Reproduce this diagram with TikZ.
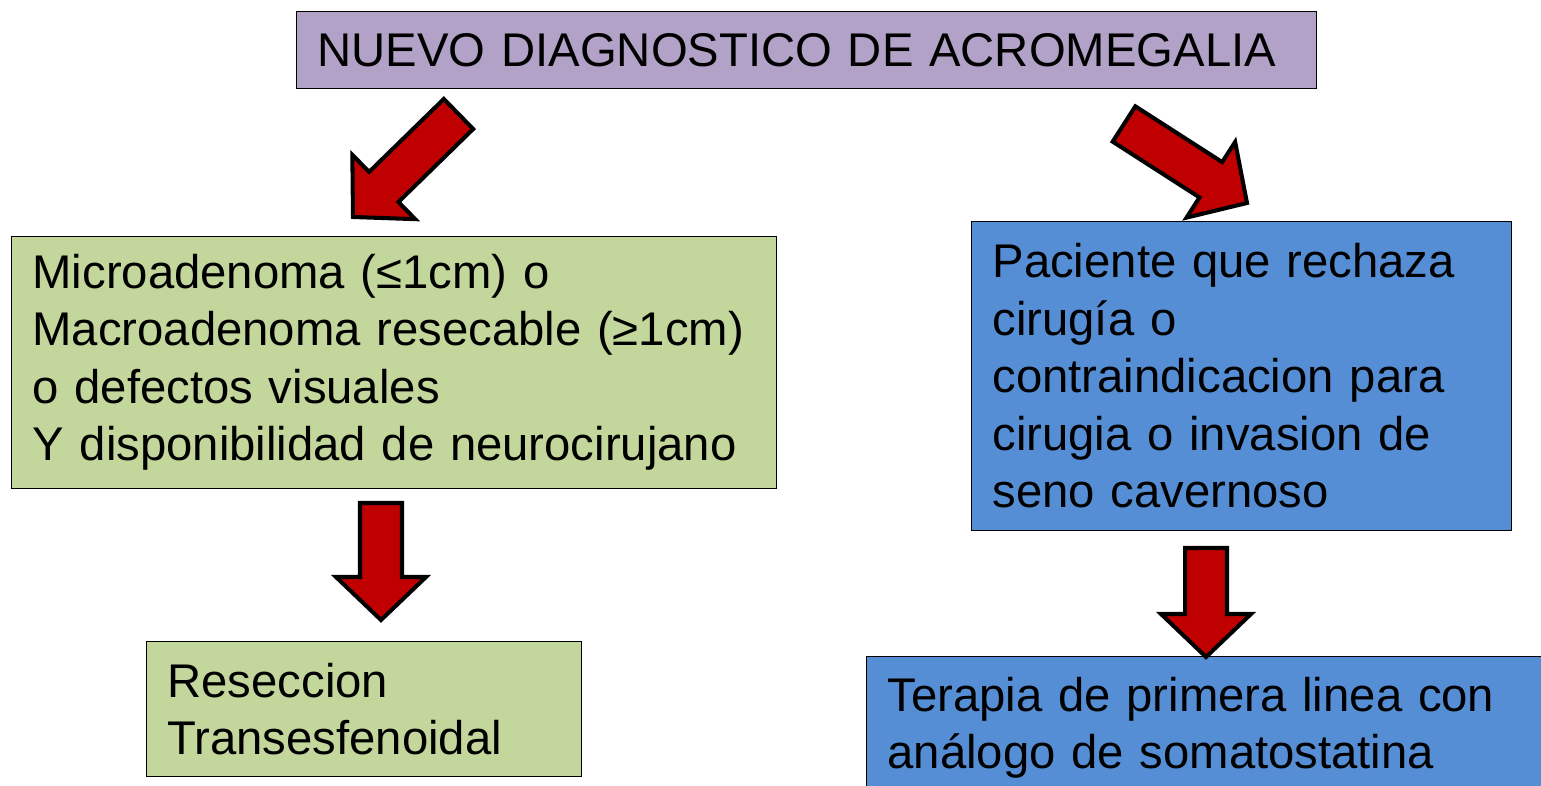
\documentclass[tikz,border=0pt]{standalone}
\usepackage{fontspec}
\setmainfont{Liberation Sans}
\usetikzlibrary{calc}
\definecolor{lila}{RGB}{178,162,199}
\definecolor{verdecaja}{RGB}{195,214,155}
\definecolor{azulcaja}{RGB}{85,142,213}
\definecolor{rojoflecha}{RGB}{192,0,0}
% flecha gruesa de (#1) a (#2)
\newcommand{\flechabloque}[2]{%
  \coordinate (fb-base) at ($(#2)!0.86cm!(#1)$);
  \draw[flecha] ($(#1)!0.42cm!90:(#2)$) -- ($(fb-base)!0.42cm!90:(#2)$)
    -- ($(fb-base)!0.9cm!90:(#2)$) -- (#2) -- ($(fb-base)!0.9cm!-90:(#2)$)
    -- ($(fb-base)!0.42cm!-90:(#2)$) -- ($(#1)!0.42cm!-90:(#2)$) -- cycle;}

\begin{document}
\begin{tikzpicture}[x=0.02cm,y=-0.02cm]
\tikzstyle{every node}=[font=\fontsize{26.9}{32.7}\selectfont]
\tikzstyle{caja}=[draw,line width=0.6pt,anchor=north west,align=left,inner xsep=0.42cm,inner ysep=0pt]
\tikzstyle{flecha}=[fill=rojoflecha,draw=black,line width=2.3pt,line join=miter]
\useasboundingbox (0,0) rectangle (1541,786);
\clip (0,0) rectangle (1541,786);
% cajas
\node[caja,fill=lila,minimum width=20.4cm,minimum height=1.54cm,text width=19.56cm] (diagnostico) at (296,11) {NUEVO DIAGNOSTICO DE ACROMEGALIA};
\node[caja,fill=verdecaja,minimum width=15.3cm,minimum height=5.04cm,text width=14.46cm] (microadenoma) at (11,236) {Microadenoma (≤1cm) o\\Macroadenoma resecable (≥1cm)\\o defectos visuales\\Y disponibilidad de neurocirujano};
\node[caja,fill=verdecaja,minimum width=8.7cm,minimum height=2.7cm,text width=7.86cm] (reseccion) at (146,641) {Reseccion\\Transesfenoidal};
\node[caja,fill=azulcaja,minimum width=10.8cm,minimum height=6.18cm,text width=9.96cm] (paciente) at (971,221) {Paciente que rechaza\\cirugía o\\contraindicacion para\\cirugia o invasion de\\seno cavernoso};
\node[caja,fill=azulcaja,minimum width=13.88cm,minimum height=2.86cm,text width=13.04cm] (terapia) at (866,656) {Terapia de primera linea con\\análogo de somatostatina};
% flechas
\coordinate (izq-cola) at (458.5,114);
\coordinate (izq-punta) at (353,217);
\coordinate (der-cola) at (1124,124);
\coordinate (der-punta) at (1247,203);
\coordinate (res-cola) at (381,503);
\coordinate (res-punta) at (381,620);
\coordinate (ter-cola) at (1206,548);
\coordinate (ter-punta) at (1206,657);
\flechabloque{izq-cola}{izq-punta}
\flechabloque{der-cola}{der-punta}
\flechabloque{res-cola}{res-punta}
\flechabloque{ter-cola}{ter-punta}
\end{tikzpicture}
\end{document}
